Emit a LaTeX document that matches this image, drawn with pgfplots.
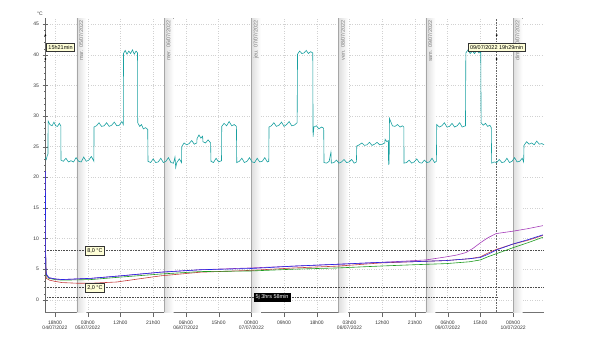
\documentclass[border=0pt]{standalone}
\usepackage{pgfplots}
\pgfplotsset{compat=1.18}
\usepackage{fontspec}
\setmainfont{Liberation Sans}
\definecolor{amb}{RGB}{25,160,160}
\definecolor{sblue}{RGB}{40,40,230}
\definecolor{spurple}{RGB}{165,60,185}
\definecolor{sred}{RGB}{195,60,60}
\definecolor{sgreen}{RGB}{30,155,30}
\definecolor{lbl}{RGB}{255,255,215}
\newcommand{\dayline}[2]{%
  \fill[left color=black!13, right color=white, draw=none] (axis cs:#1,-2) rectangle (axis cs:#1+2.6,46);
  \draw[black!35] (axis cs:#1,-2) -- (axis cs:#1,46);
  \node[rotate=90, anchor=north east, inner sep=1pt, font=\fontsize{5.5}{6}\selectfont, text=black!50] at (axis cs:#1+0.3,45.8) {#2};}
\begin{document}
\begin{tikzpicture}[x=1pt,y=1pt]
\useasboundingbox (0,0) rectangle (589,351);
\begin{axis}[
  at={(45pt,39pt)}, anchor=south west, scale only axis,
  width=499pt, height=294pt,
  xmin=15.25, xmax=152.5, ymin=-2, ymax=46,
  axis x line*=bottom, axis y line*=left,
  axis line style={black!55},
  ytick={0,5,...,45}, minor y tick num=4,
  xtick={18,27,36,45,54,63,72,81,90,99,108,117,126,135,144},
  xticklabels={{18h00\\04/07/2022},{03h00\\05/07/2022},12h00,21h00,{06h00\\06/07/2022},15h00,{00h00\\07/07/2022},09h00,18h00,{03h00\\08/07/2022},12h00,21h00,{06h00\\09/07/2022},15h00,{00h00\\10/07/2022}},
  xticklabel style={align=center, font=\fontsize{5}{5.5}\selectfont, text=black!80},
  yticklabel style={font=\fontsize{5}{6}\selectfont, text=black!80},
  /pgf/number format/assume math mode=true,
  y tick style={black!60}, x tick style={black!60},
  ytick align=center, xtick align=outside,
  major tick length=5pt, minor tick length=2pt,
  grid=major, major grid style={dotted, black!18},
  clip=false,
]
\dayline{24}{mar. 05/07/2022}
\dayline{48}{mer. 06/07/2022}
\dayline{72}{jeu. 07/07/2022}
\dayline{96}{ven. 08/07/2022}
\dayline{120}{sam. 09/07/2022}
\dayline{144}{dim. 10/07/2022}
% reference lines
\draw[densely dotted, black!70, semithick] (axis cs:15.25,8) -- (axis cs:152.5,8);
\draw[densely dotted, black!70, semithick] (axis cs:15.25,2) -- (axis cs:152.5,2);
\draw[densely dotted, black!70, semithick] (axis cs:15.35,0.4) -- (axis cs:139.48,0.4);
\draw[densely dotted, black!60, semithick] (axis cs:139.48,-2) -- (axis cs:139.48,46);
\draw[black!60] (axis cs:15.35,-2) -- (axis cs:15.35,46);

\addplot[amb, line width=0.6pt] coordinates {
(15.35,23.2) (15.6,22.9) (15.9,23.6) (16.07,23.8) (16.1,29.2) (16.6,28.6) (17.2,28.4) (17.7,29.0) (18.2,28.4) (18.7,28.3) (19.2,28.8) (19.6,28.4)
(19.65,22.8) (20.3,22.6) (21,23.1) (21.7,22.5) (22.4,22.7) (23.1,22.5) (23.8,23.2) (24.5,22.6) (25.2,22.5) (25.9,23.3) (26.6,22.6) (27.3,22.8) (28,23.4) (28.7,22.6)
(28.73,28.2) (29.4,28.4) (30.1,28.9) (30.8,28.3) (31.5,28.4) (32.2,28.9) (32.9,28.3) (33.6,28.5) (34.3,29.0) (35,28.4) (35.7,28.5) (36.4,29.1) (36.8,28.6)
(36.84,40.2) (37.3,40.7) (37.8,40.1) (38.3,40.6) (38.8,40.2) (39.3,40.8) (39.8,40.1) (40.3,40.6) (40.7,40.3)
(40.75,28.9) (41.3,28.3) (41.8,28.6) (42.3,27.9) (42.9,28.1) (43.5,27.8)
(43.58,22.6) (44.3,22.4) (45,23) (45.7,22.4) (46.4,22.5) (47.1,23.1) (47.8,22.4) (48.5,22.6) (49.2,23.2) (49.9,22.4) (50.6,22.3) (51.0,23.3) (51.2,21.6) (51.5,22.4) (52.2,23.0) (52.8,22.4)
(52.86,25.0) (53.5,25.6) (54.2,25.3) (54.9,25.5) (55.6,26.0) (56.3,25.4) (57.0,25.6)
(57.06,26.3) (57.6,26.9) (58.1,26.4) (58.6,26.7)
(58.7,25.8) (59.4,25.6) (60.1,26.1) (60.8,25.6)
(60.9,22.6) (61.6,22.4) (62.3,23.1) (63,22.5) (63.8,22.7)
(63.86,28.3) (64.5,28.8) (65.2,28.4) (65.9,29.1) (66.6,28.4) (67.3,28.6) (67.9,28.3)
(67.99,22.4) (68.7,22.6) (69.4,23.1) (70.1,22.4) (70.8,22.6) (71.5,23.2) (72.2,22.5) (72.9,22.4) (73.6,23.1) (74.3,22.5) (75,22.6) (75.7,23.2) (76.4,22.5) (76.8,22.6)
(76.87,28.2) (77.5,28.4) (78.2,28.9) (78.9,28.3) (79.6,28.5) (80.3,29.0) (81,28.3) (81.7,28.6) (82.4,29.1) (83.1,28.4) (83.8,28.5) (84.6,28.9)
(84.71,40.1) (85.3,40.6) (85.9,40.2) (86.5,40.3) (87.1,40.7) (87.7,40.2) (88.3,40.5) (88.9,40.3)
(88.98,26.6) (89.2,28.2) (89.9,28.4) (90.6,27.9) (91.3,28.2) (91.9,28.0)
(92.0,22.4) (92.7,22.3) (93.4,22.6) (93.9,24.1) (94.0,22.3) (94.7,22.4) (95.4,22.8) (96.1,22.3) (96.8,22.5) (97.5,22.9) (98.2,22.4) (98.9,22.5) (99.6,22.9) (100.3,22.3) (100.9,22.5)
(101.0,25.1) (101.7,25.3) (102.4,25.6) (103.1,25.2) (103.8,25.3) (104.5,25.7) (105.2,25.2) (105.9,25.4) (106.6,25.7) (107.3,25.3) (108,25.4) (108.7,25.6)
(108.8,26.2) (109.3,25.8) (109.7,26.0) (109.75,22.1) (109.9,22.2) (110.0,29.6) (110.4,29.0) (110.8,28.4) (111.5,28.3) (112.2,28.6) (112.9,28.2) (113.6,28.4) (113.95,28.2)
(114.0,22.3) (114.7,22.4) (115.4,22.8) (116.1,22.3) (116.8,22.5) (117.5,23.0) (118.2,22.4) (118.9,22.3) (119.6,22.8) (120.3,22.4) (121,22.5) (121.7,23.1) (122.4,22.4) (122.9,22.6)
(123.0,28.6) (123.7,28.2) (124.4,28.4) (125.1,28.9) (125.8,28.2) (126.5,28.3) (127.2,28.8) (127.9,28.2) (128.6,28.4) (129.3,28.9) (130,28.2) (130.9,28.4)
(131.0,40.3) (131.6,40.8) (132.2,40.2) (132.8,40.6) (133.4,40.2) (134,40.7) (134.6,40.3) (135.1,40.4)
(135.2,28.9) (135.8,28.5) (136.4,28.8) (137.0,28.3) (137.6,28.5) (138.0,28.1)
(138.1,22.3) (138.8,22.5) (139.5,22.4) (140.2,22.9) (140.9,22.4) (141.6,22.5) (142.3,23.1) (143,22.4) (143.7,22.6) (144.4,23.2) (145.1,22.5) (145.8,22.6) (146.5,23.1) (146.9,22.5)
(147.0,25.2) (147.7,25.8) (148.4,25.4) (149.1,25.6) (149.8,25.3) (150.5,25.9) (151.2,25.4) (151.9,25.5) (152.5,25.3)
};
\addplot[sred, line width=0.6pt] coordinates {
(15.35,21) (15.45,5.5) (15.6,3.5) (16.5,3.2) (18,3.0) (20,2.8) (24,2.7) (28,2.7) (35,2.9) (41,3.4) (47,3.9) (58,4.5) (72,4.8) (84,5.2) (96,5.5) (107.4,6.0) (116,6.2) (125.6,6.4) (132,6.7) (135,7.0) (137,7.6) (139.3,8.2) (144,9.1) (148,9.7) (152.2,10.5)
};
\addplot[sgreen, line width=0.6pt] coordinates {
(15.35,21) (15.45,5.6) (15.6,4.0) (16.3,3.5) (18,3.3) (20,3.2) (28,3.3) (36,3.7) (47,4.2) (58,4.6) (72,4.7) (84,5.0) (96,5.2) (107.4,5.5) (116,5.7) (125.6,5.9) (132,6.2) (135,6.5) (137,7.0) (139.3,7.5) (144,8.5) (148,9.3) (152.2,10.2)
};
\addplot[spurple, line width=0.6pt] coordinates {
(15.35,21) (15.45,6.2) (15.6,4.2) (16.3,3.6) (18,3.4) (20,3.3) (28,3.5) (36,3.9) (47,4.5) (58,4.9) (72,5.2) (84,5.5) (96,5.8) (107.4,6.1) (114,6.3) (120,6.5) (125.6,7.0) (128.5,7.3) (131,7.7) (133,8.4) (135,9.3) (137,10.1) (139.3,10.8) (144,11.2) (148,11.6) (152.2,12.1)
};
\addplot[sblue, line width=0.6pt] coordinates {
(15.35,21) (15.45,5.8) (15.6,4.2) (16.3,3.6) (18,3.4) (20,3.3) (28,3.5) (36,3.9) (47,4.5) (58,4.9) (72,5.1) (84,5.5) (96,5.8) (107.4,6.1) (116,6.2) (125.6,6.4) (132,6.7) (135,6.9) (137,7.4) (139.3,8.1) (144,9.1) (148,9.8) (152.2,10.6)
};

% labels
\node[draw=black!80, fill=lbl, inner sep=2pt, font=\fontsize{5.5}{6.5}\selectfont] at (axis cs:29,8) {8,0 °C};
\node[draw=black!80, fill=lbl, inner sep=2pt, font=\fontsize{5.5}{6.5}\selectfont] at (axis cs:29,2) {2,0 °C};
\node[fill=black, text=white, inner sep=2pt, font=\fontsize{5.5}{6.5}\selectfont] at (axis cs:77.7,0.4) {5j 3hrs 58min};
\node[draw=black!80, fill=lbl, inner sep=2pt, font=\fontsize{5.5}{6.5}\selectfont, anchor=west] at (axis cs:15.6,41.2) {15h21min};
\node[draw=black!80, fill=lbl, inner sep=2pt, font=\fontsize{5.5}{6.5}\selectfont] at (axis cs:139.48,41.2) {09/07/2022 19h29min};
\fill[black] (axis cs:15.35,43.2) circle (1pt);
\fill[black] (axis cs:15.35,39.3) circle (1pt);
\fill[black] (axis cs:139.48,43.2) circle (1pt);
\fill[black] (axis cs:139.48,39.3) circle (1pt);
\end{axis}
\node[font=\fontsize{5}{6}\selectfont, text=black!80] at (40pt,337pt) {°C};
\end{tikzpicture}
\end{document}
